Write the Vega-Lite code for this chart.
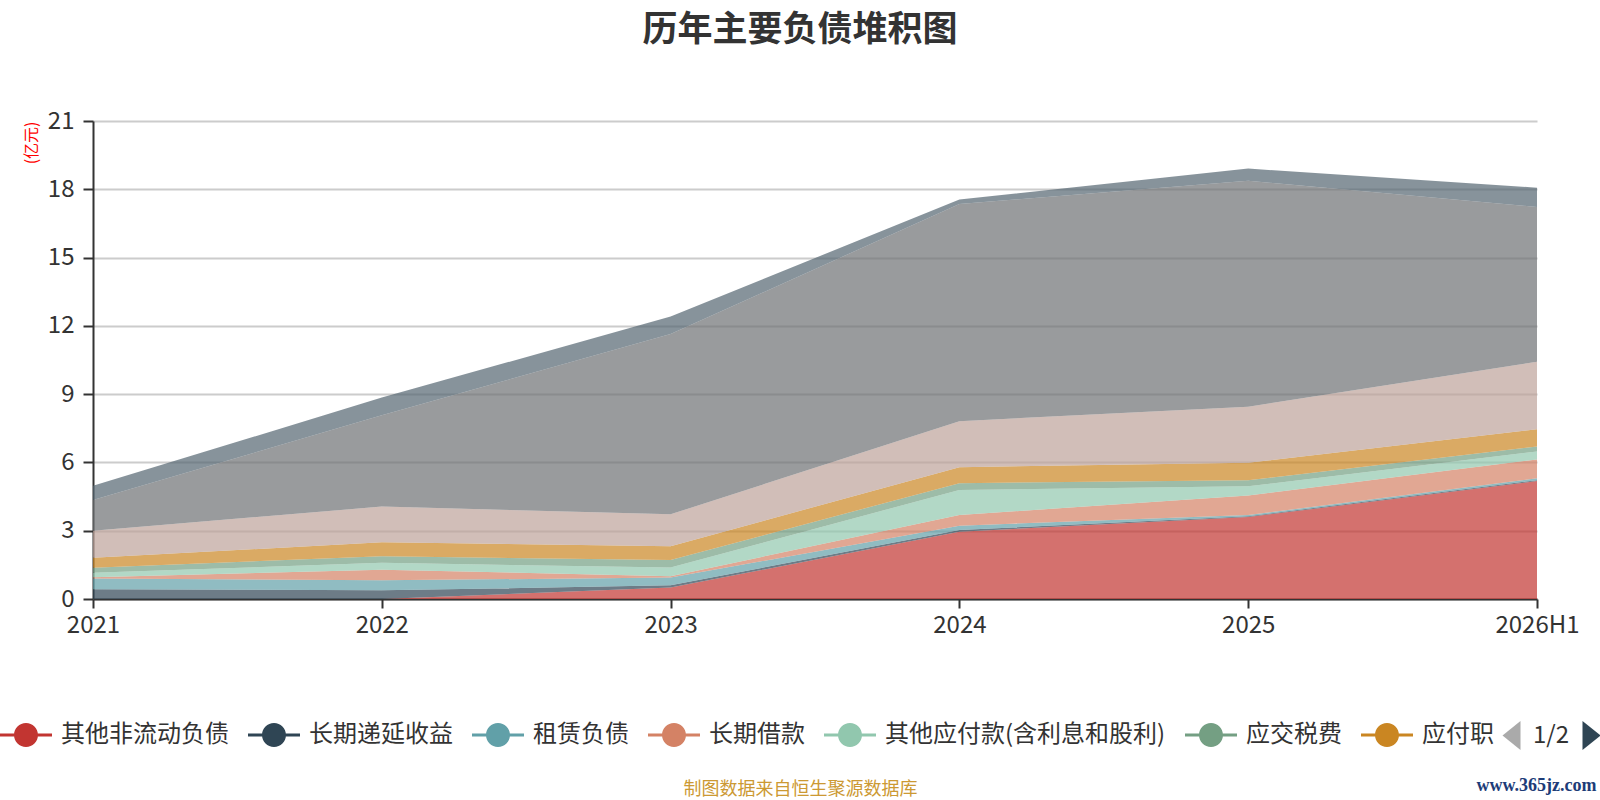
{
  "$schema": "https://vega.github.io/schema/vega-lite/v6.json",
  "width": 1444,
  "height": 478,
  "autosize": {"type": "none"},
  "padding": {"left": 93, "top": 121, "right": 63, "bottom": 201},
  "background": "white",
  "config": {
    "font": "Noto Sans CJK SC",
    "view": {"stroke": null}
  },
  "title": {
    "text": "历年主要负债堆积图",
    "fontSize": 35,
    "fontWeight": "bold",
    "color": "#333333",
    "anchor": "middle",
    "dx": -15,
    "offset": 61
  },
  "layer": [
    {
      "data": {
        "values": [
          {"year": "2021", "name": "其他非流动负债", "k": 1, "value": 0},
          {"year": "2021", "name": "长期递延收益", "k": 2, "value": 0.43},
          {"year": "2021", "name": "租赁负债", "k": 3, "value": 0.47},
          {"year": "2021", "name": "长期借款", "k": 4, "value": 0.06},
          {"year": "2021", "name": "其他应付款(含利息和股利)", "k": 5, "value": 0.19},
          {"year": "2021", "name": "应交税费", "k": 6, "value": 0.22},
          {"year": "2021", "name": "应付职工薪酬", "k": 7, "value": 0.44},
          {"year": "2021", "name": "合同负债", "k": 8, "value": 1.19},
          {"year": "2021", "name": "应付票据及应付账款", "k": 9, "value": 1.35},
          {"year": "2021", "name": "短期借款", "k": 10, "value": 0.62},

          {"year": "2022", "name": "其他非流动负债", "k": 1, "value": 0},
          {"year": "2022", "name": "长期递延收益", "k": 2, "value": 0.38},
          {"year": "2022", "name": "租赁负债", "k": 3, "value": 0.44},
          {"year": "2022", "name": "长期借款", "k": 4, "value": 0.47},
          {"year": "2022", "name": "其他应付款(含利息和股利)", "k": 5, "value": 0.30},
          {"year": "2022", "name": "应交税费", "k": 6, "value": 0.29},
          {"year": "2022", "name": "应付职工薪酬", "k": 7, "value": 0.61},
          {"year": "2022", "name": "合同负债", "k": 8, "value": 1.57},
          {"year": "2022", "name": "应付票据及应付账款", "k": 9, "value": 4.01},
          {"year": "2022", "name": "短期借款", "k": 10, "value": 0.78},

          {"year": "2023", "name": "其他非流动负债", "k": 1, "value": 0.50},
          {"year": "2023", "name": "长期递延收益", "k": 2, "value": 0.10},
          {"year": "2023", "name": "租赁负债", "k": 3, "value": 0.34},
          {"year": "2023", "name": "长期借款", "k": 4, "value": 0.06},
          {"year": "2023", "name": "其他应付款(含利息和股利)", "k": 5, "value": 0.38},
          {"year": "2023", "name": "应交税费", "k": 6, "value": 0.33},
          {"year": "2023", "name": "应付职工薪酬", "k": 7, "value": 0.61},
          {"year": "2023", "name": "合同负债", "k": 8, "value": 1.40},
          {"year": "2023", "name": "应付票据及应付账款", "k": 9, "value": 7.92},
          {"year": "2023", "name": "短期借款", "k": 10, "value": 0.77},

          {"year": "2024", "name": "其他非流动负债", "k": 1, "value": 2.96},
          {"year": "2024", "name": "长期递延收益", "k": 2, "value": 0.07},
          {"year": "2024", "name": "租赁负债", "k": 3, "value": 0.19},
          {"year": "2024", "name": "长期借款", "k": 4, "value": 0.47},
          {"year": "2024", "name": "其他应付款(含利息和股利)", "k": 5, "value": 1.10},
          {"year": "2024", "name": "应交税费", "k": 6, "value": 0.30},
          {"year": "2024", "name": "应付职工薪酬", "k": 7, "value": 0.70},
          {"year": "2024", "name": "合同负债", "k": 8, "value": 2.02},
          {"year": "2024", "name": "应付票据及应付账款", "k": 9, "value": 9.54},
          {"year": "2024", "name": "短期借款", "k": 10, "value": 0.20},

          {"year": "2025", "name": "其他非流动负债", "k": 1, "value": 3.60},
          {"year": "2025", "name": "长期递延收益", "k": 2, "value": 0.04},
          {"year": "2025", "name": "租赁负债", "k": 3, "value": 0.05},
          {"year": "2025", "name": "长期借款", "k": 4, "value": 0.86},
          {"year": "2025", "name": "其他应付款(含利息和股利)", "k": 5, "value": 0.40},
          {"year": "2025", "name": "应交税费", "k": 6, "value": 0.27},
          {"year": "2025", "name": "应付职工薪酬", "k": 7, "value": 0.77},
          {"year": "2025", "name": "合同负债", "k": 8, "value": 2.46},
          {"year": "2025", "name": "应付票据及应付账款", "k": 9, "value": 9.92},
          {"year": "2025", "name": "短期借款", "k": 10, "value": 0.54},

          {"year": "2026H1", "name": "其他非流动负债", "k": 1, "value": 5.18},
          {"year": "2026H1", "name": "长期递延收益", "k": 2, "value": 0.04},
          {"year": "2026H1", "name": "租赁负债", "k": 3, "value": 0.08},
          {"year": "2026H1", "name": "长期借款", "k": 4, "value": 0.83},
          {"year": "2026H1", "name": "其他应付款(含利息和股利)", "k": 5, "value": 0.35},
          {"year": "2026H1", "name": "应交税费", "k": 6, "value": 0.22},
          {"year": "2026H1", "name": "应付职工薪酬", "k": 7, "value": 0.76},
          {"year": "2026H1", "name": "合同负债", "k": 8, "value": 2.96},
          {"year": "2026H1", "name": "应付票据及应付账款", "k": 9, "value": 6.80},
          {"year": "2026H1", "name": "短期借款", "k": 10, "value": 0.85}
        ]
      },
      "mark": {"type": "area", "opacity": 0.7},
      "encoding": {
        "x": {
          "field": "year",
          "type": "ordinal",
          "scale": {"padding": 0},
          "axis": {
            "title": "制图数据来自恒生聚源数据库",
            "titleX": 707,
            "titleY": 190,
            "titleAlign": "center",
            "titleBaseline": "middle",
            "titleFontSize": 18,
            "titleFontWeight": "normal",
            "titleColor": "#cc9933",
            "labelAngle": 0,
            "labelFontSize": 24,
            "labelColor": "#333333",
            "labelPadding": 5,
            "labelOverlap": false,
            "labelBound": false,
            "labelFlush": false,
            "tickSize": 9,
            "tickWidth": 2,
            "tickColor": "#333333",
            "domainColor": "#333333",
            "domainWidth": 2,
            "grid": false
          }
        },
        "y": {
          "field": "value",
          "type": "quantitative",
          "stack": "zero",
          "scale": {"domain": [0, 21], "nice": false},
          "axis": {
            "values": [0, 3, 6, 9, 12, 15, 18, 21],
            "title": "(亿元)",
            "titleAngle": -90,
            "titleX": -62,
            "titleY": 0,
            "titleAlign": "right",
            "titleBaseline": "middle",
            "titleFontSize": 16,
            "titleFontWeight": "normal",
            "titleColor": "#ff0000",
            "labelFontSize": 24,
            "labelColor": "#333333",
            "labelPadding": 9,
            "tickSize": 10,
            "tickWidth": 2,
            "tickColor": "#333333",
            "domainColor": "#333333",
            "domainWidth": 2,
            "gridColor": "#cccccc",
            "gridWidth": 2
          }
        },
        "color": {
          "field": "name",
          "type": "nominal",
          "sort": ["其他非流动负债", "长期递延收益", "租赁负债", "长期借款", "其他应付款(含利息和股利)", "应交税费", "应付职工薪酬", "合同负债", "应付票据及应付账款", "短期借款"],
          "scale": {
            "domain": ["其他非流动负债", "长期递延收益", "租赁负债", "长期借款", "其他应付款(含利息和股利)", "应交税费", "应付职工薪酬", "合同负债", "应付票据及应付账款", "短期借款"],
            "range": ["#c23531", "#2f4554", "#61a0a8", "#d48265", "#91c7ae", "#749f83", "#ca8622", "#bda29a", "#6e7074", "#546570"]
          },
          "legend": {
            "title": null,
            "orient": "none",
            "legendX": -93,
            "legendY": 588,
            "direction": "horizontal",
            "padding": 0,
            "values": ["其他非流动负债", "长期递延收益", "租赁负债", "长期借款", "其他应付款(含利息和股利)", "应交税费", "应付职工薪酬"],
            "labelExpr": "datum.label == '应付职工薪酬' ? '应付职' : datum.label",
            "symbolType": "M-1,-0.058 L1,-0.058 L1,0.058 L-1,0.058 Z M0.46,0 A0.46,0.46 0 1,1 -0.46,0 A0.46,0.46 0 1,1 0.46,0 Z",
            "symbolSize": 2704,
            "symbolStrokeWidth": 0,
            "symbolOpacity": 1,
            "labelFontSize": 24,
            "labelColor": "#333333",
            "labelOffset": 9,
            "labelLimit": 400,
            "columnPadding": 19
          }
        },
        "order": {"field": "k", "type": "quantitative"}
      }
    },
    {
      "data": {"values": []},
      "mark": {"type": "point", "filled": true},
      "encoding": {
        "shape": {
          "field": "p",
          "type": "nominal",
          "scale": {
            "domain": ["1/2", "next"],
            "range": ["M0.62,-1 L0.62,1 L-0.62,0 Z", "M-0.62,-1 L-0.62,1 L0.62,0 Z"]
          },
          "legend": {
            "title": null,
            "orient": "none",
            "legendX": 1404,
            "legendY": 600,
            "direction": "horizontal",
            "padding": 0,
            "symbolSize": 841,
            "symbolStrokeWidth": 0,
            "symbolOpacity": 1,
            "labelFontSize": 24,
            "labelColor": "#333333",
            "labelOffset": 7,
            "columnPadding": 7,
            "labelExpr": "datum.value == 'next' ? '' : datum.label"
          }
        },
        "fill": {
          "field": "p",
          "type": "nominal",
          "scale": {"domain": ["1/2", "next"], "range": ["#aaaaaa", "#2f4554"]},
          "legend": {
            "title": null,
            "orient": "none",
            "legendX": 1404,
            "legendY": 600,
            "direction": "horizontal",
            "padding": 0,
            "symbolSize": 841,
            "symbolStrokeWidth": 0,
            "symbolOpacity": 1,
            "labelFontSize": 24,
            "labelColor": "#333333",
            "labelOffset": 7,
            "columnPadding": 7,
            "labelExpr": "datum.value == 'next' ? '' : datum.label"
          }
        },
        "y": {
          "field": "v",
          "type": "quantitative",
          "scale": {"domain": [0, 1]},
          "axis": {
            "orient": "right",
            "title": "www.365jz.com",
            "labels": false,
            "ticks": false,
            "domain": false,
            "grid": false,
            "titleAngle": 0,
            "titleX": -1,
            "titleY": 664,
            "titleAlign": "center",
            "titleBaseline": "middle",
            "titleFont": "Liberation Serif",
            "titleFontSize": 18,
            "titleFontWeight": "bold",
            "titleColor": "#1d3c78"
          }
        }
      }
    }
  ],
  "resolve": {"scale": {"y": "independent"}}
}
